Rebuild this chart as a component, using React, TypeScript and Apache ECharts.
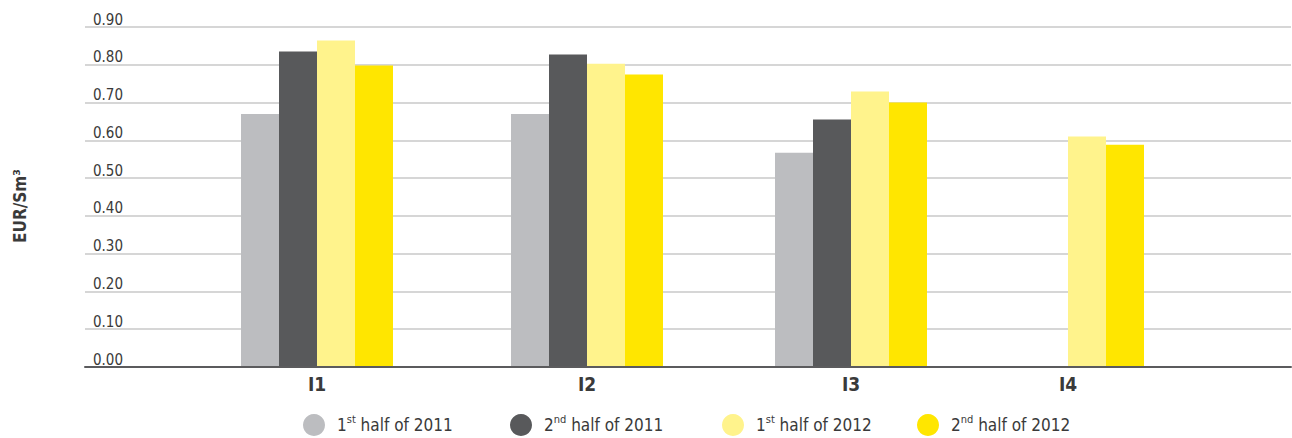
import React, { useEffect, useRef } from 'react';
import * as echarts from 'echarts';

// ---- data ----
const categories = ['I1', 'I2', 'I3', 'I4'];
const seriesNames = ['1st half of 2011', '2nd half of 2011', '1st half of 2012', '2nd half of 2012'];
const firstHalf2011 = [0.67, 0.67, 0.567, null];
const secondHalf2011 = [0.835, 0.827, 0.655, null];
const firstHalf2012 = [0.864, 0.803, 0.729, 0.61];
const secondHalf2012 = [0.798, 0.774, 0.7, 0.588];
const yAxisTitle = 'EUR/Sm³';

// ---- layout / style ----
const seriesValues = [firstHalf2011, secondHalf2011, firstHalf2012, secondHalf2012];
const colors = ['#bcbdc0', '#58595b', '#fff38c', '#ffe600'];
const groupCenters = [317, 587, 851, 1068];
const legendLefts = [303, 510, 722, 917];
const FONT = "'Liberation Sans Narrow', 'DejaVu Sans Condensed', 'Liberation Sans', sans-serif";
const TOP = 27;
const BOTTOM = 71;

export default function App() {
  const ref = useRef<HTMLDivElement>(null);
  useEffect(() => {
    document.body.style.margin = '0';
    if (!ref.current) return;
    const chart = echarts.init(ref.current, undefined, { renderer: 'svg' });

    const grids: any[] = [{ left: 85, right: 1, top: TOP, bottom: BOTTOM }];
    const xAxes: any[] = [
      {
        gridIndex: 0,
        type: 'category',
        data: [''],
        z: 5,
        axisLine: { show: true, lineStyle: { color: '#5b5b5d', width: 2 } },
        axisTick: { show: false },
        axisLabel: { show: false },
      },
    ];
    const yAxes: any[] = [
      {
        gridIndex: 0,
        type: 'value',
        min: 0,
        max: 0.9,
        interval: 0.1,
        name: yAxisTitle,
        nameLocation: 'middle',
        nameGap: 57,
        nameTextStyle: {
          fontFamily: FONT,
          fontWeight: 'bold',
          fontSize: 17,
          color: '#3a3a3a',
          padding: [0, 18, 0, 0],
        },
        axisLine: { show: false },
        axisTick: { show: false },
        splitLine: { show: true, lineStyle: { color: '#c8c8c8', width: 1.5 } },
        axisLabel: {
          inside: true,
          margin: 8,
          align: 'left',
          verticalAlign: 'bottom',
          fontFamily: FONT,
          fontSize: 15,
          color: '#3a3a3a',
          formatter: (v: number) => v.toFixed(2),
        },
      },
    ];
    const series: any[] = [];

    categories.forEach((cat, i) => {
      const gi = i + 1;
      grids.push({ left: groupCenters[i] - 100, width: 200, top: TOP, bottom: BOTTOM });
      xAxes.push({
        gridIndex: gi,
        type: 'category',
        data: [cat],
        axisLine: { show: false },
        axisTick: { show: false },
        axisLabel: {
          margin: 7,
          fontFamily: FONT,
          fontWeight: 'bold',
          fontSize: 19,
          color: '#3a3a3a',
        },
      });
      yAxes.push({ gridIndex: gi, type: 'value', min: 0, max: 0.9, show: false, splitLine: { show: false } });
      seriesNames.forEach((name, s) => {
        series.push({
          type: 'bar',
          name,
          xAxisIndex: gi,
          yAxisIndex: gi,
          data: [seriesValues[s][i]],
          barWidth: 38,
          barGap: '0%',
          itemStyle: { color: colors[s] },
        });
      });
    });

    const legends = seriesNames.map((name, s) => ({
      data: [name],
      left: legendLefts[s],
      top: 414,
      padding: 0,
      icon: 'circle',
      itemWidth: 22,
      itemHeight: 22,
      selectedMode: false,
      formatter: (n: string) => n.replace(/^(\d)(st|nd)/, '$1{sup|$2}'),
      textStyle: {
        fontFamily: FONT,
        fontSize: 17,
        lineHeight: 22,
        color: '#3a3a3a',
        padding: [0, 0, 0, 7],
        rich: {
          sup: { fontFamily: FONT, fontSize: 11, lineHeight: 22, color: '#3a3a3a', verticalAlign: 'top' },
        },
      },
    }));

    chart.setOption({
      animation: false,
      color: colors,
      grid: grids,
      xAxis: xAxes,
      yAxis: yAxes,
      legend: legends,
      series,
    });
    return () => chart.dispose();
  }, []);
  return <div ref={ref} style={{ width: 1292, height: 438 }} />;
}
